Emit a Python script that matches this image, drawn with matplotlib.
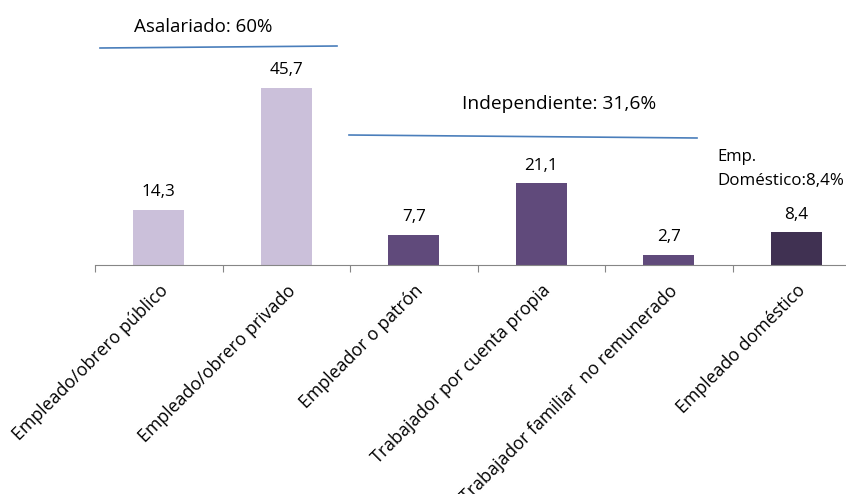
import matplotlib
matplotlib.use("Agg")
from matplotlib import pyplot as plt

categories = ["Empleado/obrero público", "Empleado/obrero privado", "Empleador o patrón",
              "Trabajador por cuenta propia", "Trabajador familiar  no remunerado",
              "Empleado doméstico"]
values = [14.3, 45.7, 7.7, 21.1, 2.7, 8.4]
value_labels = ["14,3", "45,7", "7,7", "21,1", "2,7", "8,4"]
bar_colors = ["#CBC0DA", "#CBC0DA", "#604A7B", "#604A7B", "#604A7B", "#403152"]

plt.rcParams["font.family"] = ["Open Sans", "DejaVu Sans"]

W, H = 846, 494
fig = plt.figure(figsize=(W / 100, H / 100), dpi=100)

# axes in pixel terms: baseline at y=265, 3.873 px per unit, x from 95, 127.5 px per category
y0, ppu = 265, 3.873
ymax = 60
ax = fig.add_axes([95 / W, (H - y0) / H, 765 / W, ymax * ppu / H])
x = list(range(len(values)))
ax.bar(x, values, width=0.4, color=bar_colors)
ax.set_xlim(-0.5, len(values) - 0.5)
ax.set_ylim(0, ymax)

for xi, v, lab in zip(x, values, value_labels):
    ax.text(xi, v + 2.5, lab, ha="center", va="bottom", fontsize=12.3)

for s in ["top", "right", "left"]:
    ax.spines[s].set_visible(False)
ax.spines["bottom"].set_color("#868686")
ax.set_yticks([])
ax.set_xticks([i - 0.5 for i in range(len(values) + 1)], minor=False)
ax.set_xticklabels([])
ax.tick_params(axis="x", length=5, color="#868686", direction="out")
ax.set_xticks(x, minor=True)
ax.set_xticklabels(categories, minor=True, rotation=45, ha="right",
                   rotation_mode="anchor", fontsize=12.8)
ax.tick_params(axis="x", which="minor", length=0, pad=12)


def fx(px):
    return px / W


def fy(py):
    return 1 - py / H


# group brackets
fig.add_artist(plt.Line2D([fx(100), fx(337)], [fy(48), fy(46)], color="#4A7EBB", lw=1.2))
fig.add_artist(plt.Line2D([fx(349), fx(697)], [fy(135), fy(138)], color="#4A7EBB", lw=1.2))
fig.text(fx(134), fy(27), "Asalariado: 60%", fontsize=13.5, va="center")
fig.text(fx(462), fy(104), "Independiente: 31,6%", fontsize=13.8, va="center")
fig.text(fx(717), fy(157), "Emp.", fontsize=12, va="center")
fig.text(fx(717), fy(181), "Doméstico:8,4%", fontsize=12.2, va="center")

fig.savefig("out.png", dpi=100)
